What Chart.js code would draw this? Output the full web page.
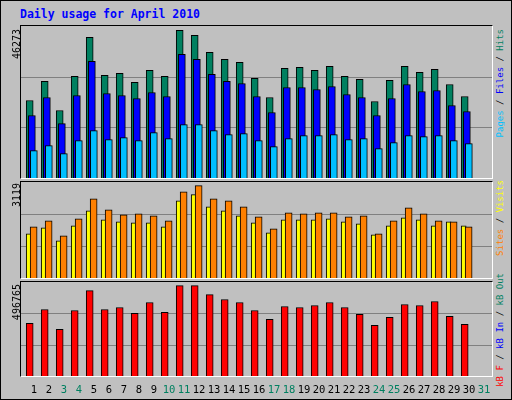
<!DOCTYPE html>
<html><head><meta charset="utf-8">
<script src="https://cdn.jsdelivr.net/npm/chart.js@4/dist/chart.umd.min.js"></script>
<style>
body{margin:0;background:#fff}
#wrap{position:absolute;left:0;top:0;width:510px;height:398px;background:#C0C0C0;border:1px solid #000;font-family:"DejaVu Sans Mono",monospace}
.panel{position:absolute;left:19px;width:471px;border-top:1px solid #000;border-left:1px solid #000;border-right:1px solid #fff;border-bottom:1px solid #fff}
.panel canvas{display:block}
.t{position:absolute;white-space:nowrap}
.v{position:absolute;writing-mode:vertical-rl;transform:rotate(180deg);white-space:nowrap;font-size:9px;line-height:11px}
.xl{position:absolute;top:382px;width:20px;margin-left:-10px;text-align:center;font-size:10.5px}
</style></head><body>
<div id="wrap">
<div class="t" style="left:19px;top:6px;color:#0000FF;font-weight:bold;font-size:11.5px">Daily usage for April 2010</div>
<div class="panel" style="top:24px;height:152px"><canvas id="c1" width="471" height="152"></canvas></div>
<div class="panel" style="top:180px;height:96px"><canvas id="c2" width="471" height="96"></canvas></div>
<div class="panel" style="top:280px;height:94px"><canvas id="c3" width="471" height="94"></canvas></div>
<div class="v" style="left:10px;top:28px;font-size:10px">46273</div>
<div class="v" style="left:10px;top:182px;font-size:10px">3119</div>
<div class="v" style="left:10px;top:283px;font-size:10px">496765</div>
<div class="v" style="left:494px;top:28px"><span style="color:#00C0FF">Pages</span> / <span style="color:#0000FF">Files</span> / <span style="color:#008060">Hits</span></div>
<div class="v" style="left:494px;top:179px"><span style="color:#FF8000">Sites</span> / <span style="color:#FFFF00">Visits</span></div>
<div class="v" style="left:494px;top:272px"><span style="color:#FF0000">kB F</span> / <span style="color:#0000FF">kB In</span> / <span style="color:#008060">kB Out</span></div>
<div id="xlabels"></div>
</div>
<script>
const days = Array.from({length:31},(_, i)=>String(i+1));
const weekend = [3,4,10,11,17,18,24,25,31];
const hits  = [24290,30258,21149,31829,44079,32143,32771,29944,33713,31829,46273,44707,39367,37169,36226,31201,25233,34342,34656,33713,34970,31829,30887,23976,30572,34970,33085,34028,29316,25547];
const files = [19579,25233,17066,25861,36540,26489,25861,24919,26803,25547,38739,37169,32457,30258,29630,25547,20521,28374,28374,27746,28688,26175,25233,19579,24919,29316,27117,27431,22720,20835];
const pages = [8585,10156,7643,11726,14867,12041,12669,11726,14239,12355,16752,16752,14867,13611,13925,11726,9842,12355,13297,13297,13611,12041,12355,9214,11098,13297,12983,13297,11726,10784];
const visits= [1492,1695,1254,1763,2271,1966,1898,1865,1865,1729,2610,2814,2407,2271,2102,1865,1526,1966,1966,1966,2000,1898,1831,1458,1763,2034,1966,1763,1898,1763];
const sites = [1729,1932,1424,2000,2678,2305,2136,2170,2102,1932,2915,3119,2678,2610,2407,2068,1661,2204,2170,2204,2204,2068,2102,1492,1932,2373,2170,1932,1898,1729];
const kbF   = [289332,365760,256578,360301,469483,365760,376678,343923,403973,349382,496765,496765,447646,420351,403973,360301,311169,382137,376678,387596,403973,376678,338464,278414,322087,393055,387596,409433,327546,283873];

const xl=document.getElementById('xlabels');
days.forEach((d,i)=>{const e=document.createElement('div');e.className='xl';e.style.left=(33+15*i)+'px';e.style.color=weekend.includes(i+1)?'#008060':'#000';e.textContent=d;xl.appendChild(e);});

const grid={id:'grid',beforeDatasetsDraw(c){const y=c.scales.y,ctx=c.ctx;ctx.save();ctx.strokeStyle='#808080';ctx.lineWidth=1;
 [1,2].forEach(k=>{const p=Math.round(y.getPixelForValue(y.max*k/3))+0.5;ctx.beginPath();ctx.moveTo(0,p);ctx.lineTo(c.width,p);ctx.stroke();});ctx.restore();}};

function pts(a){return a.map((v,i)=>({x:i+1,y:v}));}
function mk(id,ymax,sets){
 const scales={y:{display:false,min:0,max:ymax}};
 sets.forEach((s,i)=>{scales['x'+i]={type:'linear',display:false,offset:false,grace:0,bounds:'ticks',min:0.5-s.off,max:0.5-s.off+31.4};});
 new Chart(document.getElementById(id),{type:'bar',
  data:{datasets:sets.map((s,i)=>({data:pts(s.data),xAxisID:'x'+i,order:sets.length-i,backgroundColor:s.color,borderColor:'#000',borderWidth:1,borderSkipped:'bottom',barThickness:s.w,grouped:false}))},
  options:{responsive:false,animation:false,layout:{padding:0},plugins:{legend:{display:false},tooltip:{enabled:false}},scales},
  plugins:[grid]});
}
mk('c1',47637,[{data:hits,color:'#008060',off:0.08,w:7},{data:files,color:'#0000FF',off:0.224,w:7},{data:pages,color:'#00C0FF',off:0.356,w:7}]);
mk('c2',3243,[{data:visits,color:'#FFFF00',off:0.013,w:5},{data:sites,color:'#FF8000',off:0.342,w:7}]);
mk('c3',516790,[{data:kbF,color:'#FF0000',off:0.08,w:7}]);
</script></body></html>
